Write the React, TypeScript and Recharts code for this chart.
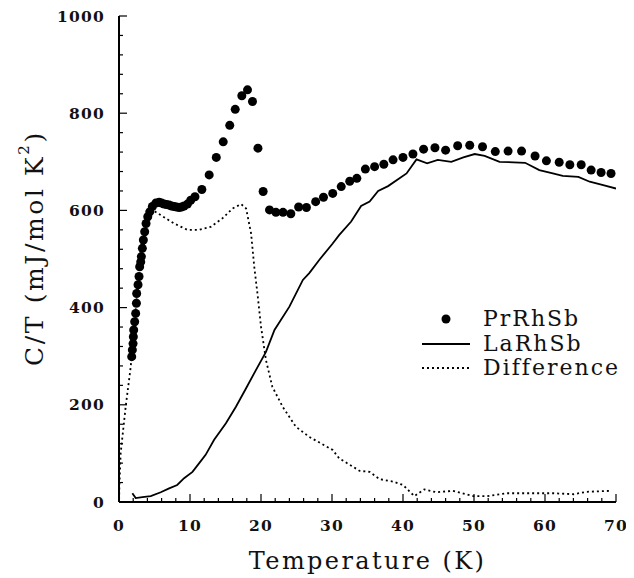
import React from 'react';
import { ComposedChart, Line, Scatter, XAxis, YAxis, Legend } from 'recharts';

// PrRhSb (filled dots)
const prT = [1.79, 1.88, 1.98, 2.02, 2.07, 2.21, 2.35, 2.45, 2.49, 2.68, 2.82, 2.91, 3.06, 3.15, 3.29, 3.43, 3.62, 3.81, 4.05, 4.33, 4.7, 5.18, 5.65, 6.0, 6.35, 6.7, 7.06, 7.4, 7.76, 8.1, 8.47, 8.8, 9.17, 9.64, 10.1, 10.7, 11.67, 12.7, 13.7, 14.68, 15.6, 16.37, 17.3, 18.1, 18.8, 19.57, 20.3, 21.2, 22.1, 23.1, 24.2, 25.3, 26.4, 27.7, 28.8, 30.1, 31.3, 32.5, 33.5, 34.7, 36.0, 37.3, 38.6, 40.0, 41.4, 42.9, 44.5, 46.0, 47.7, 49.4, 51.2, 53.0, 54.8, 56.7, 58.6, 60.2, 62.0, 63.5, 65.1, 66.5, 67.9, 69.3];
const prC = [299, 313, 326, 340, 354, 371, 388, 409, 429, 447, 464, 484, 494, 505, 522, 539, 556, 573, 587, 597, 608, 615, 617, 615, 613, 612, 611, 609, 608, 607, 606, 607, 609, 613, 621, 628, 643, 673, 709, 741, 775, 808, 836, 848, 824, 728, 639, 601, 596, 596, 593, 607, 606, 618, 627, 635, 649, 660, 666, 685, 690, 695, 704, 709, 716, 726, 729, 724, 733, 734, 731, 721, 722, 722, 712, 702, 699, 694, 694, 683, 678, 676];

// LaRhSb (solid line)
const laT = [1.88, 2.35, 3.3, 4.47, 5.88, 7.06, 8.2, 9.17, 10.35, 11.3, 12.2, 13.4, 15.06, 16.47, 17.9, 19.3, 20.7, 21.9, 24.0, 25.9, 26.8, 28.2, 30.1, 31.0, 32.7, 34.1, 35.3, 36.5, 37.9, 40.5, 41.9, 43.4, 44.9, 46.8, 48.5, 50.1, 51.5, 53.6, 57.2, 59.2, 61.1, 62.5, 64.7, 66.3, 68.2, 70];
const laC = [18, 8, 10, 12, 20, 28, 35, 49, 62, 80, 97, 128, 162, 196, 234, 272, 309, 354, 402, 457, 471, 498, 532, 549, 577, 609, 618, 640, 650, 676, 705, 697, 704, 700, 709, 716, 712, 700, 698, 683, 676, 671, 669, 659, 652, 645];

// Difference (dotted line)
const diffT = [0.02, 0.05, 0.23, 0.94, 1.65, 2.5, 3.3, 4.0, 4.7, 5.9, 7.76, 9.64, 11.3, 12.9, 14.6, 16.0, 17.2, 17.9, 18.6, 19.05, 19.5, 20.0, 20.7, 21.6, 23.05, 24.9, 26.8, 30.1, 31.0, 33.9, 35.3, 36.7, 38.6, 40.0, 41.6, 43.0, 44.7, 47.0, 49.9, 51.8, 54.6, 57.4, 61.2, 64.0, 65.9, 69.4];
const diffC = [5, 31, 100, 196, 278, 420, 510, 575, 601, 590, 573, 560, 560, 566, 584, 604, 613, 604, 553, 484, 429, 361, 292, 237, 196, 155, 134, 107, 90, 64, 62, 47, 42, 35, 12, 26, 20, 23, 12, 12, 18, 18, 18, 16, 21, 23];

const xTicks = [0, 2, 4, 6, 8, 10, 12, 14, 16, 18, 20, 22, 24, 26, 28, 30, 32, 34, 36, 38, 40, 42, 44, 46, 48, 50, 52, 54, 56, 58, 60, 62, 64, 66, 68, 70];
const yTicks = [0, 40, 80, 120, 160, 200, 240, 280, 320, 360, 400, 440, 480, 520, 560, 600, 640, 680, 720, 760, 800, 840, 880, 920, 960, 1000];

const LEGEND = [
  { name: 'PrRhSb', kind: 'dot' },
  { name: 'LaRhSb', kind: 'solid' },
  { name: 'Difference', kind: 'dotted' },
];

const toRows = (ts: number[], cs: number[]) => ts.map((t, i) => ({ t, c: cs[i] }));
const prData = toRows(prT, prC);
const laData = toRows(laT, laC);
const diffData = toRows(diffT, diffC);

const SERIF = '"DejaVu Serif", serif';
const TICK_FONT = { fontFamily: SERIF, fontSize: 15.5, fontWeight: 700, letterSpacing: 1.2, fill: '#111' };
const X_MARGIN = 18;
const Y_MARGIN = 14;

const isMajor = (v: number, step: number) => v % step === 0;

const BottomTick = (props: any) => {
  const { x, y, payload } = props;
  const v = payload.value;
  const major = isMajor(v, 10);
  const base = y - X_MARGIN;
  return (
    <g>
      <line x1={x} x2={x} y1={base} y2={base - (major ? 8 : 4)} stroke="#000" strokeWidth={1.2} />
      {major && (
        <text x={x} y={y} dy="0.71em" textAnchor="middle" {...TICK_FONT}>
          {v}
        </text>
      )}
    </g>
  );
};

const TopTick = (props: any) => {
  const { x, y, payload } = props;
  const major = isMajor(payload.value, 10);
  return <line x1={x} x2={x} y1={y} y2={y + (major ? 8 : 4)} stroke="#000" strokeWidth={1.2} />;
};

const LeftTick = (props: any) => {
  const { x, y, payload } = props;
  const v = payload.value;
  const major = isMajor(v, 200);
  const base = x + Y_MARGIN;
  return (
    <g>
      <line x1={base} x2={base + (major ? 8 : 4)} y1={y} y2={y} stroke="#000" strokeWidth={1.2} />
      {major && (
        <text x={x} y={y} dy="0.36em" textAnchor="end" {...TICK_FONT}>
          {v}
        </text>
      )}
    </g>
  );
};

const RightTick = (props: any) => {
  const { x, y, payload } = props;
  const major = isMajor(payload.value, 200);
  return <line x1={x} x2={x - (major ? 8 : 4)} y1={y} y2={y} stroke="#000" strokeWidth={1.2} />;
};

const XTitle = (props: any) => {
  const { x, y, width } = props.viewBox;
  return (
    <text x={x + width / 2} y={y + 67} textAnchor="middle" fontFamily={SERIF} fontSize={24} letterSpacing={2.4} fill="#111">
      Temperature (K)
    </text>
  );
};

const YTitle = (props: any) => {
  const { y, height } = props.viewBox;
  const cx = 26;
  const cy = y + height / 2 - 11;
  return (
    <text
      x={cx}
      y={cy}
      transform={`rotate(-90 ${cx} ${cy})`}
      textAnchor="middle"
      dominantBaseline="central"
      fontFamily={SERIF}
      fontSize={25}
      letterSpacing={2.6}
      fill="#111"
    >
      C/T (mJ/mol K
      <tspan dy={-10} fontSize={15}>2</tspan>
      <tspan dy={10}>)</tspan>
    </text>
  );
};

const LegendBox = () => (
  <div style={{ fontFamily: SERIF, fontSize: 22, letterSpacing: 2, color: '#111' }}>
    {LEGEND.map((item) => (
      <div key={item.name} style={{ display: 'flex', alignItems: 'center', height: 24.5 }}>
        <svg width={48} height={24} style={{ display: 'block' }}>
          {item.kind === 'dot' && <circle cx={24} cy={12} r={4.5} fill="#000" />}
          {item.kind === 'solid' && <line x1={0} x2={48} y1={12} y2={12} stroke="#000" strokeWidth={1.8} />}
          {item.kind === 'dotted' && (
            <line x1={0} x2={48} y1={12} y2={12} stroke="#000" strokeWidth={1.8} strokeDasharray="2 3" />
          )}
        </svg>
        <span style={{ marginLeft: 13, lineHeight: '24px' }}>{item.name}</span>
      </div>
    ))}
  </div>
);

export default function App() {
  return (
    <ComposedChart width={626} height={570} margin={{ top: 8, right: 18, bottom: 0, left: 0 }}>
      <XAxis
        dataKey="t"
        type="number"
        domain={[0, 70]}
        ticks={xTicks}
        interval={0}
        height={76}
        tickSize={0}
        tickMargin={X_MARGIN}
        tickLine={false}
        tick={<BottomTick />}
        axisLine={{ stroke: '#000', strokeWidth: 2 }}
        label={<XTitle />}
        allowDataOverflow
      />
      <XAxis
        xAxisId="top"
        orientation="top"
        type="number"
        domain={[0, 70]}
        ticks={xTicks}
        interval={0}
        height={0}
        tickSize={0}
        tickMargin={0}
        tickLine={false}
        tick={<TopTick />}
        axisLine={{ stroke: '#000', strokeWidth: 2 }}
      />
      <YAxis
        type="number"
        domain={[0, 1000]}
        ticks={yTicks}
        interval={0}
        width={111}
        tickSize={0}
        tickMargin={Y_MARGIN}
        tickLine={false}
        tick={<LeftTick />}
        axisLine={{ stroke: '#000', strokeWidth: 2 }}
        label={<YTitle />}
        allowDataOverflow
      />
      <YAxis
        yAxisId="right"
        orientation="right"
        type="number"
        domain={[0, 1000]}
        ticks={yTicks}
        interval={0}
        width={0}
        tickSize={0}
        tickMargin={0}
        tickLine={false}
        tick={<RightTick />}
        axisLine={{ stroke: '#000', strokeWidth: 2 }}
      />
      <Legend
        layout="vertical"
        align="center"
        verticalAlign="middle"
        content={<LegendBox />}
        wrapperStyle={{ position: 'absolute', left: 414, top: 299, width: 220, height: 74 }}
      />
      <Line
        data={diffData}
        dataKey="c"
        name="Difference"
        type="linear"
        stroke="#000"
        strokeWidth={1.8}
        strokeDasharray="2 3"
        dot={false}
        isAnimationActive={false}
      />
      <Line
        data={laData}
        dataKey="c"
        name="LaRhSb"
        type="linear"
        stroke="#000"
        strokeWidth={1.8}
        dot={false}
        isAnimationActive={false}
      />
      <Scatter
        data={prData}
        dataKey="c"
        name="PrRhSb"
        fill="#000"
        shape={(p: any) => <circle cx={p.cx} cy={p.cy} r={4.5} fill="#000" />}
        isAnimationActive={false}
      />
    </ComposedChart>
  );
}
